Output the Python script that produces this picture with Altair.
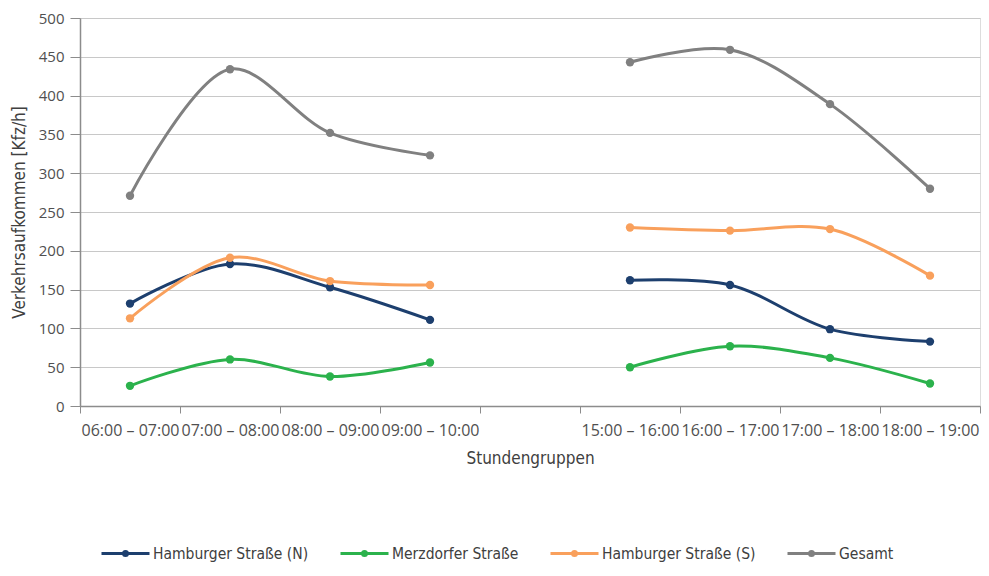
import altair as alt
import pandas as pd

slots = ["06:00 – 07:00", "07:00 – 08:00", "08:00 – 09:00", "09:00 – 10:00", " ",
         "15:00 – 16:00", "16:00 – 17:00", "17:00 – 18:00", "18:00 – 19:00"]
data_slots = ["06:00 – 07:00", "07:00 – 08:00", "08:00 – 09:00", "09:00 – 10:00",
              "15:00 – 16:00", "16:00 – 17:00", "17:00 – 18:00", "18:00 – 19:00"]
periods = ["vormittag"] * 4 + ["nachmittag"] * 4

series_names = ["Hamburger Straße (N)", "Merzdorfer Straße", "Hamburger Straße (S)", "Gesamt"]
hamburger_n = [132, 183, 153, 111, 162, 156, 99, 83]
merzdorfer = [26, 60, 38, 56, 50, 77, 62, 29]
hamburger_s = [113, 191, 161, 156, 230, 226, 228, 168]
gesamt = [271, 434, 352, 323, 443, 459, 389, 280]
colors = ["#1d3f6e", "#2bb24c", "#f9a05c", "#808080"]

rows = []
for name, vals in zip(series_names, [hamburger_n, merzdorfer, hamburger_s, gesamt]):
    for s, p, v in zip(data_slots, periods, vals):
        rows.append({"slot": s, "series": name, "period": p, "value": v})
df = pd.DataFrame(rows)

FONT = "Open Sans"
COND = "DejaVu Sans Condensed"

x_enc = alt.X(
    "slot:N",
    sort=slots,
    scale=alt.Scale(type="band", domain=slots, paddingInner=0, paddingOuter=0),
    axis=alt.Axis(
        title="Stundengruppen",
        tickBand="extent",
        labelAngle=0,
        labelOverlap=False,
        labelFont=FONT,
        labelFontSize=16,
        labelColor="#505050",
        labelPadding=9,
        tickSize=7,
        tickColor="#8c8c8c",
        domainColor="#8c8c8c",
        domainWidth=1.5,
        grid=False,
        titleFont=COND,
        titleFontSize=17,
        titleFontWeight="normal",
        titleColor="#404040",
        titleY=52,
        titleBaseline="middle",
    ),
)

y_enc = alt.Y(
    "value:Q",
    scale=alt.Scale(domain=[0, 500], nice=False),
    axis=alt.Axis(
        title="Verkehrsaufkommen [Kfz/h]",
        values=list(range(0, 501, 50)),
        labelFont=FONT,
        labelFontSize=15,
        labelColor="#505050",
        labelPadding=6,
        tickSize=10,
        tickColor="#8c8c8c",
        domainColor="#8c8c8c",
        domainWidth=1.5,
        grid=True,
        gridColor="#c8c8c8",
        gridWidth=1.2,
        titleFont=COND,
        titleFontSize=17,
        titleFontWeight="normal",
        titleColor="#404040",
        titleAngle=270,
        titleX=-61,
        titleY=194,
        titleAlign="center",
        titleBaseline="middle",
    ),
)

# line with a dot in the middle; 16px symbol box, path reaches 3 units (48px)
legend_path = ("M-3,0L3,0 M-0.25,0 A0.25,0.25 0 1,0 0.25,0 "
               "A0.25,0.25 0 1,0 -0.25,0")

color_enc = alt.Color(
    "series:N",
    scale=alt.Scale(domain=series_names, range=colors),
    legend=alt.Legend(
        title=None,
        orient="none",
        direction="horizontal",
        legendX=36,
        legendY=526,
        symbolType=legend_path,
        symbolSize=256,
        symbolStrokeWidth=3,
        labelFont=COND,
        labelFontSize=15.5,
        labelColor="#404040",
        labelOffset=18,
        columnPadding=25,
        labelLimit=300,
    ),
)

base = alt.Chart(df).encode(x=x_enc, y=y_enc, color=color_enc)

lines = base.mark_line(interpolate="catmull-rom", strokeWidth=3).encode(
    detail="period:N"
)
points = base.mark_point(filled=True, size=70, opacity=1).encode(
    detail="period:N"
)

chart = (
    alt.layer(lines, points)
    .properties(
        width=900,
        height=388,
        autosize=alt.AutoSizeParams(type="none"),
        padding={"left": 72, "top": 10, "right": 1, "bottom": 156},
    )
    .configure_view(stroke=None)
    .configure(background="white")
)

chart.save("out.html", embed_options={"renderer": "svg", "actions": False})
